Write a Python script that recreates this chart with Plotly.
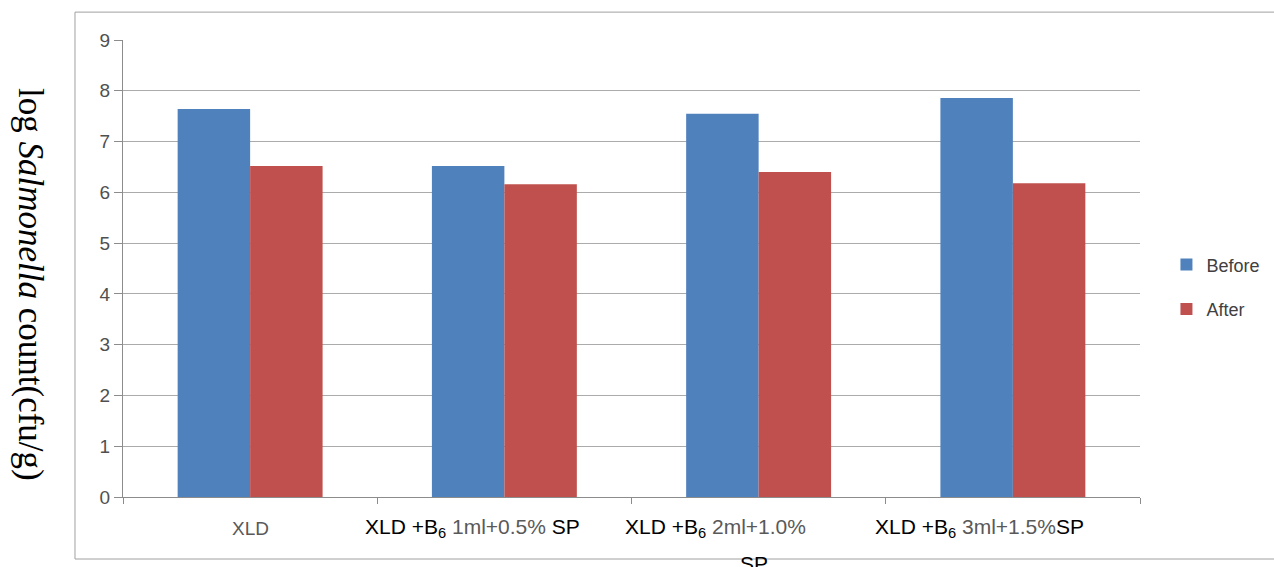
import plotly.graph_objects as go

# Salmonella counts (log cfu/g) before and after treatment
categories = ["XLD", "XLD +B6 1ml+0.5% SP", "XLD +B6 2ml+1.0% SP", "XLD +B6 3ml+1.5% SP"]
before = [7.64, 6.52, 7.55, 7.86]
after = [6.52, 6.16, 6.40, 6.18]
y_ticks = [0, 1, 2, 3, 4, 5, 6, 7, 8, 9]

BLUE = "#4F81BD"
RED = "#C0504D"
GRID = "#ABABAB"
SANS = "Liberation Sans, Arial, sans-serif"
SERIF = "Liberation Serif, Times New Roman, serif"

fig = go.Figure()
fig.add_trace(go.Bar(x=categories, y=before, name="Before", marker_color=BLUE,
                     marker_line_width=0, legendgroup="b"))
fig.add_trace(go.Bar(x=categories, y=after, name="After", marker_color=RED,
                     marker_line_width=0, legendgroup="a"))

fig.update_layout(
    width=1274, height=567,
    margin=dict(l=123, r=134, t=40, b=70, autoexpand=False),
    paper_bgcolor="white", plot_bgcolor="white",
    barmode="group", bargap=0.43, bargroupgap=0,
    showlegend=True,
    legend=dict(x=1.026, y=0.46, xanchor="left", yanchor="middle",
                font=dict(family=SANS, size=18, color="#404040"),
                traceorder="grouped", tracegroupgap=18,
                bgcolor="rgba(0,0,0,0)", itemwidth=30),
    font=dict(family=SANS),
)

fig.update_xaxes(
    type="category", showticklabels=False, showgrid=False,
    tickson="boundaries", ticks="outside", ticklen=6, tickcolor="#8C8C8C",
    showline=True, linecolor="#8C8C8C", linewidth=1,
)
fig.update_yaxes(
    range=[0, 9], tickvals=y_ticks, ticktext=[str(v) for v in y_ticks],
    showgrid=True, gridcolor=GRID, gridwidth=1, zeroline=False,
    showline=True, linecolor="#8C8C8C", linewidth=1,
    ticks="outside", ticklen=8, tickcolor="#8C8C8C",
    tickfont=dict(family=SANS, size=19, color="#505050"),
)

def label(main, dose, tail):
    return (f'<span style="color:#000000">{main}<sub>6</sub></span> '
            f'<span style="color:#595959">{dose}</span>'
            f'<span style="color:#000000">{tail}</span>')

ann = [
    dict(x=categories[0], y=-0.068, text='<span style="color:#595959">XLD</span>',
         xshift=0, font_size=19),
    dict(x=categories[1], y=-0.068, text=label("XLD +B", "1ml+0.5%", " SP"), xshift=-32),
    dict(x=categories[2], y=-0.068, text=label("XLD +B", "2ml+1.0%", ""), xshift=-43),
    dict(x=categories[2], y=-0.145, text="SP", xshift=-5),
    dict(x=categories[3], y=-0.068, text=label("XLD +B", "3ml+1.5%", "SP"), xshift=-33),
]
for a in ann:
    fig.add_annotation(xref="x", yref="paper", x=a["x"], y=a["y"], text=a["text"],
                       xshift=a["xshift"], showarrow=False, xanchor="center", yanchor="middle",
                       font=dict(family=SANS, size=a.get("font_size", 21), color="#000000"))

# rotated axis title
fig.add_annotation(xref="paper", yref="paper", x=-0.091, y=0.465,
                   text="log <i>Salmonella</i> count(cfu/g)", textangle=90,
                   showarrow=False, xanchor="center", yanchor="middle",
                   font=dict(family=SERIF, size=35, color="#000000"))

# outer chart frame
fig.add_shape(type="rect", xref="paper", yref="paper",
              x0=-0.0472, x1=1.25, y0=-0.1357, y1=1.061,
              line=dict(color="#A0A0A0", width=1), layer="below")

fig.write_html("out.html")
